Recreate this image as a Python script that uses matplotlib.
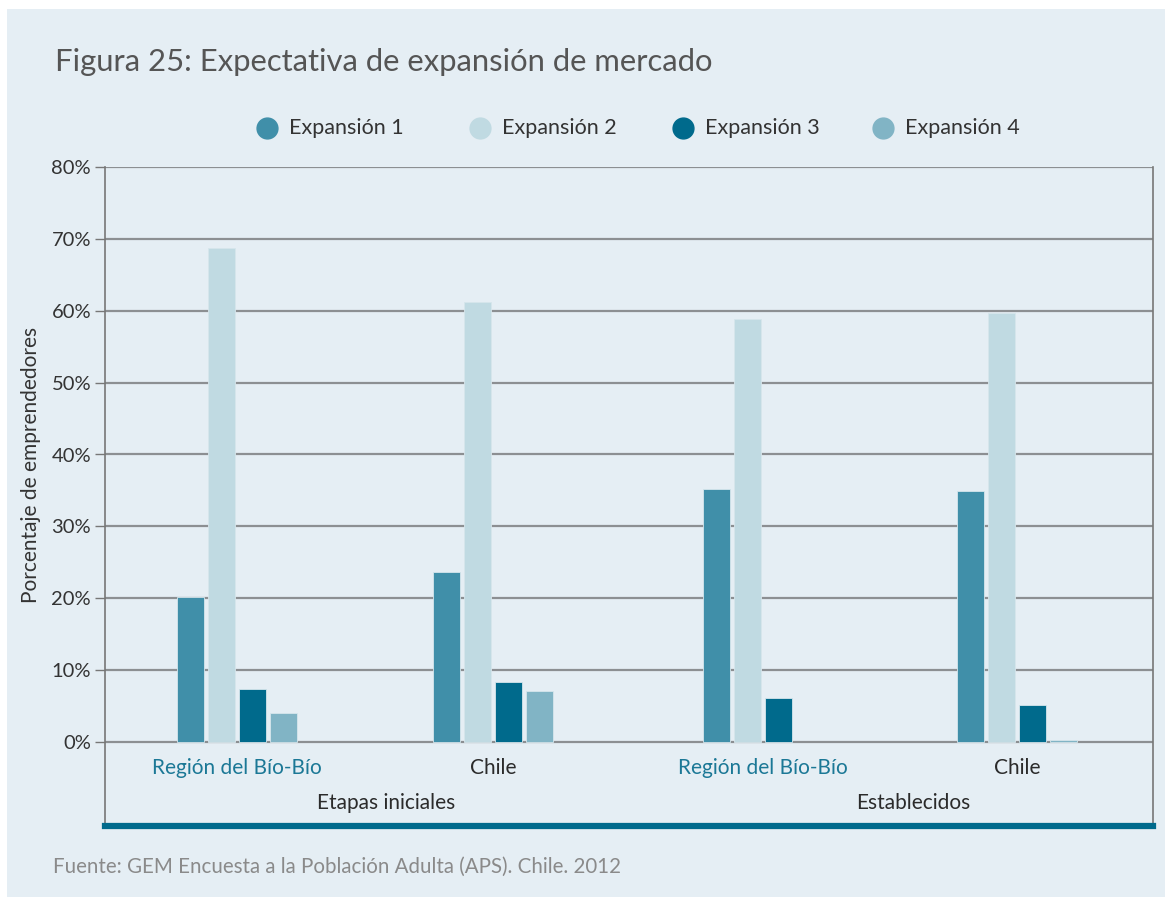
import matplotlib
matplotlib.use("Agg")
import matplotlib.pyplot as plt
from matplotlib.patches import Rectangle
import numpy as np

plt.rcParams['font.family'] = ['Lato', 'DejaVu Sans']

categories = ["Región del Bío-Bío", "Chile", "Región del Bío-Bío", "Chile"]
groups = ["Etapas iniciales", "Establecidos"]
series_names = ["Expansión 1", "Expansión 2", "Expansión 3", "Expansión 4"]
expansion1 = [20.2, 23.6, 35.2, 34.9]
expansion2 = [68.7, 61.2, 58.8, 59.7]
expansion3 = [7.4, 8.3, 6.1, 5.1]
expansion4 = [4.0, 7.1, 0.0, 0.3]
yticks = [0, 10, 20, 30, 40, 50, 60, 70, 80]
ytick_labels = ["0%", "10%", "20%", "30%", "40%", "50%", "60%", "70%", "80%"]

series = [expansion1, expansion2, expansion3, expansion4]
colors = ["#408fa9", "#c0dae2", "#006a8c", "#81b4c5"]
label_colors = ["#1b7896", "#2b2b2b", "#1b7896", "#2b2b2b"]
panel = "#e5eef4"

W, H = 1165, 897
fig = plt.figure(figsize=(W / 100, H / 100), dpi=100)
fig.patch.set_facecolor("white")
fig.patches.append(Rectangle((7 / W, 0), 1, 1 - 9 / H, transform=fig.transFigure,
                             facecolor=panel, edgecolor="none", zorder=-10))

ax_left, ax_right = 105 / W, 1153 / W
ax_top, ax_bottom = 1 - 167 / H, 1 - 826 / H
ax = fig.add_axes([ax_left, ax_bottom, ax_right - ax_left, ax_top - ax_bottom])
ax.set_facecolor(panel)
ymin = -(826 - 742) / ((742 - 167) / 80)
ax.set_ylim(ymin, 80)
ax.set_xlim(0, 4)

# gridlines
for v in yticks:
    ax.axhline(v, color="#8c8f92", lw=1.6, zorder=1)

centers = np.array([0.504, 1.48, 2.51, 3.48])
step = 0.118
width = 0.103
for i, (vals, c) in enumerate(zip(series, colors)):
    ax.bar(centers + (i - 1.5) * step, vals, width=width, color=c,
           edgecolor=["#d6e6ec" if v > 0 else "none" for v in vals],
           linewidth=0.6, zorder=2, label=series_names[i])

ax.set_yticks(yticks)
ax.set_yticklabels(ytick_labels, fontsize=14.5, color="#333333")
ax.tick_params(axis="y", direction="out", length=7, width=1, color="#777777", pad=3)
ax.set_xticks([])
for s in ["left", "right"]:
    ax.spines[s].set_color("#777777")
    ax.spines[s].set_linewidth(1.2)
ax.spines["top"].set_visible(False)
ax.spines["bottom"].set_color("#006a8c")
ax.spines["bottom"].set_linewidth(4.5)

ax.set_ylabel("Porcentaje de emprendedores", fontsize=15, color="#333333")
ax.yaxis.set_label_coords(-(105 - 41) / (1153 - 105), (826 - 465) / (826 - 167))

for x, lab, lc in zip(centers, categories, label_colors):
    ax.text(x, -3.6, lab, ha="center", va="center", fontsize=15, color=lc)
ax.text((386 - 105) / 1048, (826 - 803) / 659, groups[0], transform=ax.transAxes,
        ha="center", va="center", fontsize=15, color="#2b2b2b")
ax.text((913 - 105) / 1048, (826 - 803) / 659, groups[1], transform=ax.transAxes,
        ha="center", va="center", fontsize=15, color="#2b2b2b")

fig.text(55 / W, 1 - 62 / H, "Figura 25: Expectativa de expansión de mercado",
         ha="left", va="center", fontsize=22.3, color="#555555")

# legend
leg_x = [267, 480, 683, 883]
for x, name, c in zip(leg_x, series_names, colors):
    fig.lines.append(plt.Line2D([x / W], [1 - 128 / H], marker="o", markersize=15,
                                color=c, transform=fig.transFigure))
    fig.text((x + 22) / W, 1 - 128 / H, name, ha="left", va="center",
             fontsize=15.5, color="#333333")

fig.text(53 / W, 1 - 867 / H, "Fuente: GEM Encuesta a la Población Adulta (APS). Chile. 2012",
         ha="left", va="center", fontsize=14.8, color="#8a8a8a")

fig.savefig("out.png", dpi=100, facecolor=fig.get_facecolor())
